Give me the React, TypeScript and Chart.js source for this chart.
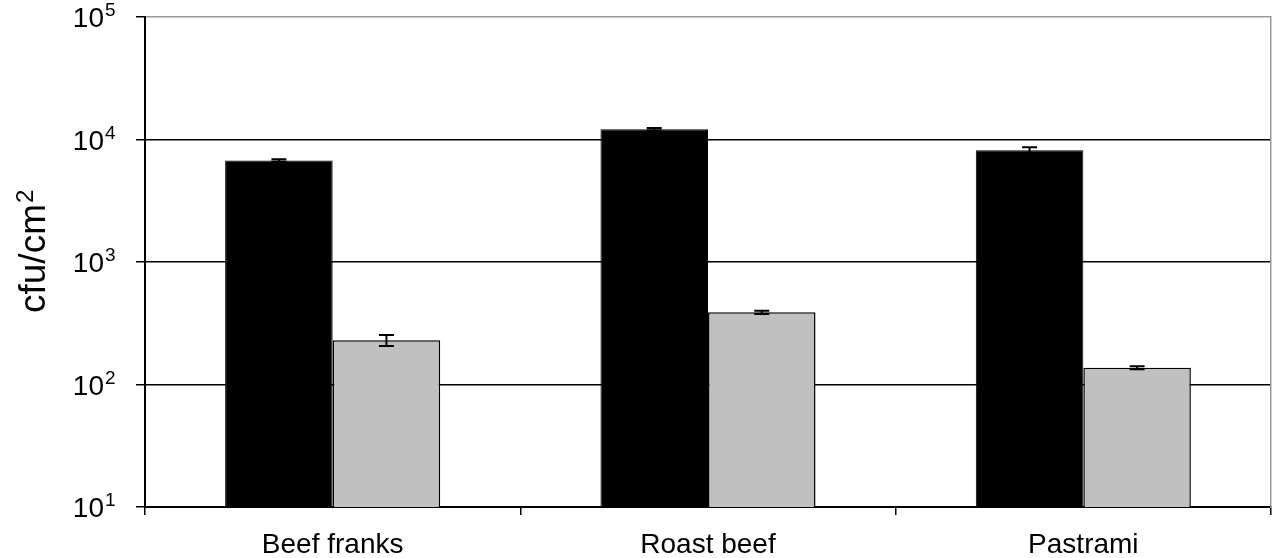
import React, { useEffect, useRef } from "react";
import { Chart, registerables } from "chart.js";

Chart.register(...registerables);

const categories = ["Beef franks", "Roast beef", "Pastrami"];
const seriesA = [6740, 12140, 8180];
const errorsA = [150, 280, 470];
const seriesB = [230, 388, 137];
const errorsB = [24, 12, 4];
const yTickValues = [10, 100, 1000, 10000, 100000];
const yTickBase = "10";
const yTickExponents = ["1", "2", "3", "4", "5"];
const yTitleMain = "cfu/cm";
const yTitleSup = "2";

const FONT = "'Liberation Sans', Arial, sans-serif";

const errorBarPlugin = {
  id: "errorBars",
  afterDatasetsDraw(chart: any) {
    const ctx = chart.ctx;
    const yScale = chart.scales.y;
    const errs = [errorsA, errorsB];
    ctx.save();
    ctx.strokeStyle = "#000";
    ctx.lineWidth = 2;
    chart.data.datasets.forEach((ds: any, di: number) => {
      const meta = chart.getDatasetMeta(di);
      meta.data.forEach((el: any, i: number) => {
        const v = ds.data[i];
        const e = errs[di][i];
        const x = el.x;
        const yt = yScale.getPixelForValue(v + e);
        const yb = yScale.getPixelForValue(v - e);
        const cap = 7.5;
        ctx.beginPath();
        ctx.moveTo(x, yt);
        ctx.lineTo(x, yb);
        ctx.moveTo(x - cap, yt);
        ctx.lineTo(x + cap, yt);
        ctx.moveTo(x - cap, yb);
        ctx.lineTo(x + cap, yb);
        ctx.stroke();
      });
    });
    ctx.restore();
  },
};

const axisTextPlugin = {
  id: "axisText",
  afterDraw(chart: any) {
    const ctx = chart.ctx;
    const yScale = chart.scales.y;
    ctx.save();
    ctx.fillStyle = "#000";
    // y tick labels with raised exponent
    yTickValues.forEach((v, i) => {
      const y = yScale.getPixelForValue(v);
      const xr = yScale.right - 41;
      ctx.font = `28px ${FONT}`;
      ctx.textAlign = "right";
      ctx.textBaseline = "alphabetic";
      ctx.fillText(yTickBase, xr, y + 10);
      ctx.font = `19px ${FONT}`;
      ctx.textAlign = "left";
      ctx.fillText(yTickExponents[i], xr + 1, y - 1);
    });
    // y axis title, rotated
    const midY = (chart.chartArea.top + chart.chartArea.bottom) / 2;
    ctx.translate(45, midY + 51);
    ctx.rotate(-Math.PI / 2);
    ctx.textAlign = "left";
    ctx.textBaseline = "alphabetic";
    ctx.font = `37px ${FONT}`;
    ctx.fillText(yTitleMain, 0, 0);
    const w = ctx.measureText(yTitleMain).width;
    ctx.font = `24px ${FONT}`;
    ctx.fillText(yTitleSup, w + 1, -12);
    ctx.restore();
  },
};

export default function App() {
  const ref = useRef<HTMLCanvasElement | null>(null);
  useEffect(() => {
    if (!ref.current) return;
    const chart = new Chart(ref.current, {
      type: "bar",
      data: {
        labels: categories,
        datasets: [
          {
            label: "A",
            data: seriesA,
            backgroundColor: "#000000",
            borderColor: "#000000",
            borderWidth: 1,
            categoryPercentage: 0.573,
            barPercentage: 1,
          },
          {
            label: "B",
            data: seriesB,
            backgroundColor: "#C0C0C0",
            borderColor: "#000000",
            borderWidth: 1.5,
            categoryPercentage: 0.573,
            barPercentage: 1,
          },
        ],
      },
      options: {
        animation: false,
        responsive: true,
        maintainAspectRatio: false,
        layout: { padding: { top: 17, right: 0, left: 0, bottom: 0 } },
        plugins: {
          legend: { display: false },
          tooltip: { enabled: false },
        },
        scales: {
          x: {
            grid: {
              drawOnChartArea: false,
              offset: true,
              tickLength: 8,
              color: "#000",
              lineWidth: 1.5,
            },
            border: { display: true, color: "#000", width: 2 },
            ticks: {
              color: "#000",
              padding: 13,
              font: { family: FONT, size: 28 },
            },
            afterFit: (s: any) => {
              s.height = 51;
              s.paddingLeft = 0;
              s.paddingRight = 0;
            },
          },
          y: {
            type: "logarithmic",
            min: 10,
            max: 100000,
            afterBuildTicks: (s: any) => {
              s.ticks = yTickValues.map((v) => ({ value: v }));
            },
            grid: {
              color: (c: any) => (c.tick && c.tick.value === 100000 ? "#999999" : "#000000"),
              tickColor: "#000",
              lineWidth: 1.5,
              tickLength: 9,
            },
            border: { display: true, color: "#000", width: 2 },
            ticks: { display: false },
            afterFit: (s: any) => {
              s.width = 145;
              s.paddingTop = 0;
              s.paddingBottom = 0;
            },
          },
          y2: {
            type: "linear",
            position: "right",
            display: true,
            grid: { display: false },
            ticks: { display: false },
            border: { display: true, color: "#999999", width: 1.5 },
            afterFit: (s: any) => {
              s.width = 4;
              s.paddingTop = 0;
              s.paddingBottom = 0;
            },
          },
        },
      },
      plugins: [errorBarPlugin, axisTextPlugin],
    });
    return () => chart.destroy();
  }, []);
  return (
    <div style={{ position: "absolute", left: 0, top: 0, width: 1275, height: 558 }}>
      <canvas ref={ref} />
    </div>
  );
}
